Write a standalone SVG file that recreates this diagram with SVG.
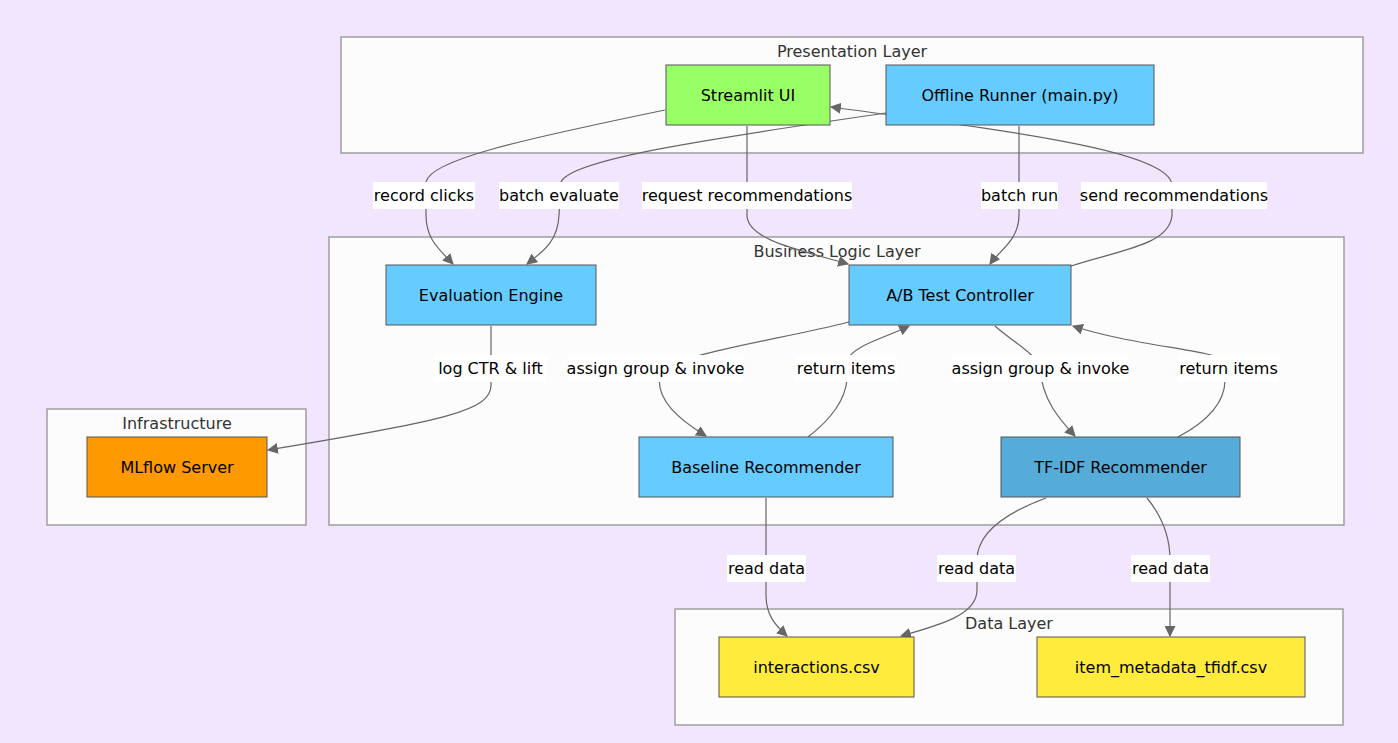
<svg xmlns="http://www.w3.org/2000/svg" width="1398" height="743" viewBox="0 0 1398 743">
<style>
text{font-family:"DejaVu Sans","Liberation Sans",sans-serif;font-size:16px;text-anchor:middle;dominant-baseline:central;fill:#000}
.cluster rect{fill:#fcfcfc;stroke:#9e9e9e;stroke-width:1.5}
.cluster text{fill:#333}
.node rect{stroke:#555;stroke-width:1}
.edge{fill:none;stroke:#666;stroke-width:1.2;marker-end:url(#arrow)}
.lbl rect{fill:#fff}
.blue{fill:#66ccff}
</style>
<defs>
<marker id="arrow" viewBox="0 0 10 10" refX="9" refY="5" markerWidth="11" markerHeight="11" markerUnits="userSpaceOnUse" orient="auto">
<path d="M0,0 L10,5 L0,10 z" fill="#666"/>
</marker>
</defs>
<rect width="1398" height="743" fill="#f2e5fe"/>
<g id="clusters">
<g class="cluster" id="presentation"><rect x="341" y="37" width="1022" height="116"/><text x="852" y="51">Presentation Layer</text></g>
<g class="cluster" id="business"><rect x="329" y="237" width="1015" height="288"/><text x="837" y="251">Business Logic Layer</text></g>
<g class="cluster" id="infrastructure"><rect x="47" y="409" width="259" height="116"/><text x="177" y="423">Infrastructure</text></g>
<g class="cluster" id="datalayer"><rect x="675" y="609" width="668" height="116"/><text x="1009" y="623">Data Layer</text></g>
</g>
<g id="connectors">
<path class="edge" d="M665,110 C520,140 430,160 426,182 L426,215 C426,240 440,250 453,264"/>
<path class="edge" d="M886,113 C700,140 570,160 561,182 L559,215 C558,240 545,250 527,264"/>
<path class="edge" d="M747,126 L747,215 C747,240 800,250 848,264"/>
<path class="edge" d="M1019,126 L1019,215 C1019,240 1000,250 990,264"/>
<path class="edge" d="M1071,266 C1120,250 1170,245 1172,215 L1172,185 C1170,150 1000,130 831,107"/>
<path class="edge" d="M491,326 L491,385 C491,410 450,420 268,450"/>
<path class="edge" d="M849,322 C780,340 665,355 660,375 C655,400 680,420 706,436"/>
<path class="edge" d="M808,437 C830,420 845,400 847,380 L847,360 C855,345 880,340 909,326"/>
<path class="edge" d="M995,326 C1010,340 1038,355 1040,368 C1042,400 1060,420 1075,436"/>
<path class="edge" d="M1178,437 C1210,420 1225,400 1225,380 L1225,360 C1210,350 1130,345 1073,326"/>
<path class="edge" d="M766,498 L766,595 C766,615 775,625 787,636"/>
<path class="edge" d="M1046,498 C1000,515 977,535 977,560 L977,590 C977,615 940,625 901,636"/>
<path class="edge" d="M1147,498 C1165,520 1170,540 1170,560 L1170,636"/>
</g>
<g id="edge-labels">
<g class="lbl"><rect x="373" y="182" width="102" height="27"/><text x="424" y="195.5">record clicks</text></g>
<g class="lbl"><rect x="499" y="182" width="120" height="27"/><text x="559" y="195.5">batch evaluate</text></g>
<g class="lbl"><rect x="642" y="182" width="210" height="27"/><text x="747" y="195.5">request recommendations</text></g>
<g class="lbl"><rect x="981" y="182" width="77" height="27"/><text x="1019.5" y="195.5">batch run</text></g>
<g class="lbl"><rect x="1081" y="182" width="186" height="27"/><text x="1174" y="195.5">send recommendations</text></g>
<g class="lbl"><rect x="434" y="355" width="113" height="27"/><text x="490.5" y="368.5">log CTR &amp; lift</text></g>
<g class="lbl"><rect x="568" y="355" width="175" height="27"/><text x="655.5" y="368.5">assign group &amp; invoke</text></g>
<g class="lbl"><rect x="795" y="355" width="102" height="27"/><text x="846" y="368.5">return items</text></g>
<g class="lbl"><rect x="953" y="355" width="175" height="27"/><text x="1040.5" y="368.5">assign group &amp; invoke</text></g>
<g class="lbl"><rect x="1178" y="355" width="101" height="27"/><text x="1228.5" y="368.5">return items</text></g>
<g class="lbl"><rect x="727" y="555" width="79" height="27"/><text x="766.5" y="568.5">read data</text></g>
<g class="lbl"><rect x="937" y="555" width="79" height="27"/><text x="976.5" y="568.5">read data</text></g>
<g class="lbl"><rect x="1131" y="555" width="79" height="27"/><text x="1170.5" y="568.5">read data</text></g>
</g>
<g class="node" id="streamlit"><rect x="666" y="65" width="164" height="60" fill="#99ff66"/><text x="748" y="95">Streamlit UI</text></g>
<g class="node" id="offline"><rect x="886" y="65" width="268" height="60" class="blue"/><text x="1020" y="95">Offline Runner (main.py)</text></g>
<g class="node" id="evaluation"><rect x="386" y="265" width="210" height="60" class="blue"/><text x="491" y="295">Evaluation Engine</text></g>
<g class="node" id="abtest"><rect x="849" y="265" width="222" height="60" class="blue"/><text x="960" y="295">A/B Test Controller</text></g>
<g class="node" id="mlflow"><rect x="87" y="437" width="180" height="60" fill="#ff9900"/><text x="177" y="467">MLflow Server</text></g>
<g class="node" id="baseline"><rect x="639" y="437" width="254" height="60" class="blue"/><text x="766" y="467">Baseline Recommender</text></g>
<g class="node" id="tfidf"><rect x="1001" y="437" width="239" height="60" fill="#56acd8"/><text x="1120.5" y="467">TF-IDF Recommender</text></g>
<g class="node" id="interactions"><rect x="719" y="637" width="195" height="60" fill="#ffeb3b"/><text x="816.5" y="667">interactions.csv</text></g>
<g class="node" id="itemmeta"><rect x="1037" y="637" width="268" height="60" fill="#ffeb3b"/><text x="1171" y="667">item_metadata_tfidf.csv</text></g>
</svg>
